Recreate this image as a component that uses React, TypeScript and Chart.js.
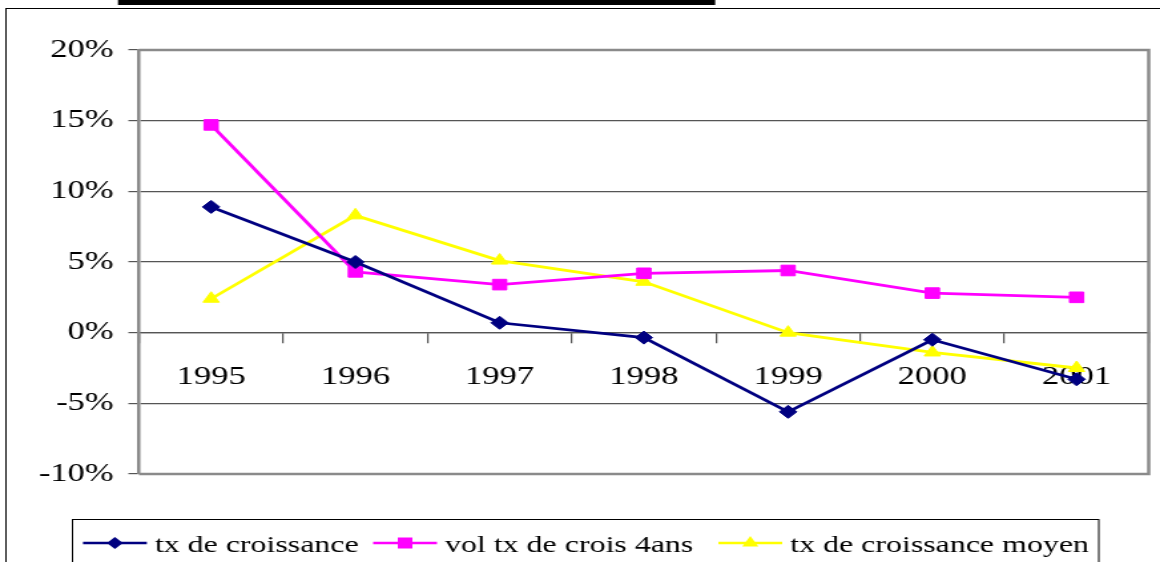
import { useEffect, useRef } from "react";
import { Chart, registerables } from "chart.js";

Chart.register(...registerables);

// ---- data ----
const categories = ["1995", "1996", "1997", "1998", "1999", "2000", "2001"];
const txCroissance = [8.9, 5.0, 0.7, -0.35, -5.6, -0.5, -3.3];
const volTxCrois4ans = [14.7, 4.3, 3.4, 4.2, 4.4, 2.8, 2.5];
const txCroissanceMoyen = [2.4, 8.3, 5.1, 3.6, 0.0, -1.4, -2.5];
const seriesNames = ["tx de croissance", "vol tx de crois 4ans", "tx de croissance moyen"];
const yMin = -10;
const yMax = 20;
const yStep = 5;

// ---- geometry (internal canvas is stretched horizontally via CSS, like the reference) ----
const DISPLAY_W = 1160;
const DISPLAY_H = 562;
const INNER_W = 872;
const FONT = '"Liberation Serif", "Times New Roman", "DejaVu Serif", serif';
const LEGEND_ITEM_X = [62.4, 280.5, 540];

const NAVY = "#000080";
const MAGENTA = "#FF00FF";
const YELLOW = "#FFFF00";

function drawMarker(ctx: CanvasRenderingContext2D, kind: string, x: number, y: number, color: string) {
  ctx.save();
  ctx.fillStyle = color;
  ctx.beginPath();
  if (kind === "diamond") {
    const r = 6;
    ctx.moveTo(x, y - r);
    ctx.lineTo(x + r, y);
    ctx.lineTo(x, y + r);
    ctx.lineTo(x - r, y);
  } else if (kind === "square") {
    const h = 5.5;
    ctx.rect(x - h, y - h, 2 * h, 2 * h);
  } else {
    const r = 7;
    ctx.moveTo(x, y - r);
    ctx.lineTo(x + r * 0.866, y + r * 0.5);
    ctx.lineTo(x - r * 0.866, y + r * 0.5);
  }
  ctx.closePath();
  ctx.fill();
  ctx.restore();
}

const framePlugin = {
  id: "frame",
  beforeDatasetsDraw(chart: any) {
    const { ctx, chartArea } = chart;
    ctx.save();
    ctx.strokeStyle = "#8a8a8a";
    ctx.lineWidth = 2.5;
    ctx.beginPath();
    ctx.moveTo(chartArea.left, chartArea.top);
    ctx.lineTo(chartArea.right, chartArea.top);
    ctx.lineTo(chartArea.right, chartArea.bottom);
    ctx.lineTo(chartArea.left, chartArea.bottom);
    ctx.stroke();
    ctx.restore();
  },
  afterDraw(chart: any) {
    const { ctx } = chart;
    ctx.save();
    // black underline from the document above the chart
    ctx.fillStyle = "#000";
    ctx.fillRect(88.7, 0, 448.9, 5);
    // outer chart box
    ctx.strokeStyle = "#000";
    ctx.lineWidth = 1;
    ctx.strokeRect(4.5, 8.5, INNER_W + 20, DISPLAY_H);
    // legend box
    ctx.strokeRect(54.5, 519.5, 771.5, 60);
    // legend items
    ctx.font = `24px ${FONT}`;
    ctx.textBaseline = "alphabetic";
    ctx.textAlign = "left";
    const colors = [NAVY, MAGENTA, YELLOW];
    const kinds = ["diamond", "square", "triangle"];
    const ly = 543;
    for (let i = 0; i < seriesNames.length; i++) {
      const x = LEGEND_ITEM_X[i];
      ctx.strokeStyle = colors[i];
      ctx.lineWidth = 2.4;
      ctx.beginPath();
      ctx.moveTo(x, ly);
      ctx.lineTo(x + 48, ly);
      ctx.stroke();
      drawMarker(ctx, kinds[i], x + 24, ly, colors[i]);
      ctx.fillStyle = "#000";
      ctx.fillText(seriesNames[i], x + 54, 552);
    }
    ctx.restore();
  },
};

const whiteBg = {
  id: "whiteBg",
  beforeDraw(chart: any) {
    const { ctx, width, height } = chart;
    ctx.save();
    ctx.fillStyle = "#fff";
    ctx.fillRect(0, 0, width, height);
    ctx.restore();
  },
};

export default function App() {
  const canvasRef = useRef<HTMLCanvasElement | null>(null);

  useEffect(() => {
    let chart: Chart | null = null;
    let cancelled = false;

    const build = () => {
      if (cancelled || !canvasRef.current) return;
      chart = new Chart(canvasRef.current, {
        type: "line",
        data: {
          labels: categories,
          datasets: [
            {
              label: seriesNames[0],
              data: txCroissance,
              borderColor: NAVY,
              backgroundColor: NAVY,
              borderWidth: 2.8,
              pointStyle: "rectRot",
              pointRadius: 6.5,
              pointBorderWidth: 1,
              tension: 0,
            },
            {
              label: seriesNames[1],
              data: volTxCrois4ans,
              borderColor: MAGENTA,
              backgroundColor: MAGENTA,
              borderWidth: 2.8,
              pointStyle: "rect",
              pointRadius: 7.5,
              pointBorderWidth: 1,
              tension: 0,
            },
            {
              label: seriesNames[2],
              data: txCroissanceMoyen,
              borderColor: YELLOW,
              backgroundColor: YELLOW,
              borderWidth: 2.8,
              pointStyle: "triangle",
              pointRadius: 7,
              pointBorderWidth: 1,
              tension: 0,
            },
          ],
        },
        options: {
          animation: false,
          responsive: false,
          devicePixelRatio: 1,
          font: { family: FONT },
          layout: { padding: { left: 0, top: 50, right: INNER_W - 864.5, bottom: 88 } },
          plugins: {
            legend: { display: false },
            tooltip: { enabled: false },
          },
          scales: {
            x: {
              type: "category",
              position: { y: 0 } as any,
              offset: true,
              afterFit: (s: any) => {
                s.height = 0;
              },
              grid: {
                drawOnChartArea: false,
                drawTicks: true,
                tickLength: 10,
                offset: true,
                color: "#555",
                lineWidth: 1.2,
              },
              border: { display: true, color: "#555", width: 1.2 },
              ticks: {
                color: "#000",
                font: { family: FONT, size: 26 },
                padding: 19,
                maxRotation: 0,
                autoSkip: false,
              },
            },
            y: {
              min: yMin,
              max: yMax,
              afterFit: (s: any) => {
                s.width = 104.5;
              },
              grid: { color: "#555", lineWidth: 1.2, tickLength: 8 },
              border: { display: true, color: "#8a8a8a", width: 2.5 },
              ticks: {
                stepSize: yStep,
                color: "#000",
                padding: 11,
                font: { family: FONT, size: 26 },
                callback: (v: any) => `${Math.round(Number(v))}%`,
              },
            },
          },
        } as any,
        plugins: [whiteBg, framePlugin],
      });
    };

    const fonts: any = (document as any).fonts;
    if (fonts && fonts.load) {
      Promise.all([
        fonts.load('26px "Liberation Serif"'),
        fonts.load('24px "Liberation Serif"'),
      ])
        .catch(() => null)
        .then(() => build());
    } else {
      build();
    }

    return () => {
      cancelled = true;
      if (chart) chart.destroy();
    };
  }, []);

  return (
    <div
      style={{
        position: "fixed",
        left: 0,
        top: 0,
        width: DISPLAY_W,
        height: DISPLAY_H,
        background: "#fff",
        overflow: "hidden",
      }}
    >
      <canvas
        ref={canvasRef}
        width={INNER_W}
        height={DISPLAY_H}
        style={{ width: `${DISPLAY_W}px`, height: `${DISPLAY_H}px`, display: "block" }}
      />
    </div>
  );
}
